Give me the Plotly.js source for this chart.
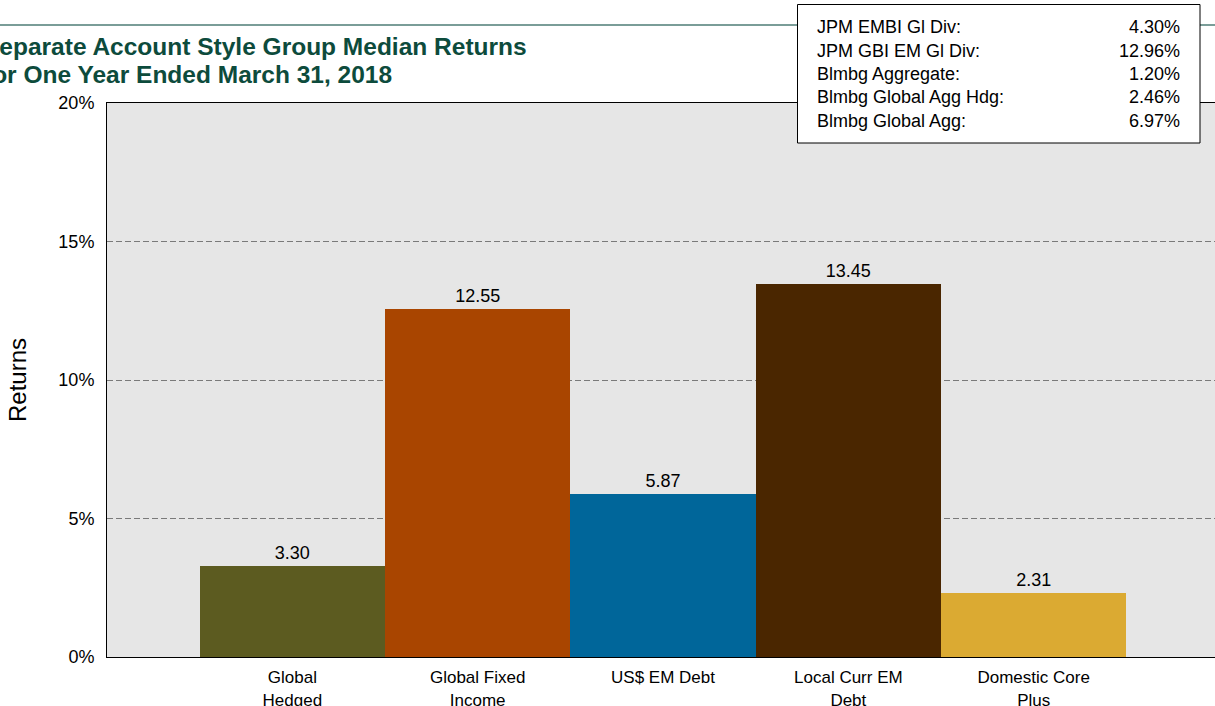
<!DOCTYPE html>
<html>
<head>
<meta charset="utf-8">
<script src="https://cdn.plot.ly/plotly-3.0.1.min.js"></script>
<style>
html, body { margin: 0; padding: 0; overflow: hidden; background: #fff; }
#chart { width: 1219px; height: 706px; }
</style>
</head>
<body>
<div id="chart"></div>
<script>
// ---- data ----
const categories = ['Global<br>Hedged', 'Global Fixed<br>Income', 'US$ EM Debt', 'Local Curr EM<br>Debt', 'Domestic Core<br>Plus'];
const medianReturns = [3.30, 12.55, 5.87, 13.45, 2.31];
const barColors = ['#5C5B20', '#A94500', '#00669A', '#4A2600', '#DBAA32'];
const indexNames = ['JPM EMBI Gl Div:', 'JPM GBI EM Gl Div:', 'Blmbg Aggregate:', 'Blmbg Global Agg Hdg:', 'Blmbg Global Agg:'];
const indexReturns = ['4.30%', '12.96%', '1.20%', '2.46%', '6.97%'];
const titleLines = ['Separate Account Style Group Median Returns', 'for One Year Ended March 31, 2018'];
const yTickVals = [0, 5, 10, 15, 20];
const yTickText = ['0%', '5%', '10%', '15%', '20%'];

// ---- layout helpers (pixel -> paper) ----
const L = 107, R = 1219, T = 103, B = 657;
const px = v => (v - L) / (R - L);
const py = v => (B - v) / (B - T);
const FONT = 'Liberation Sans, Arial, Helvetica, sans-serif';
const titleColor = '#0D4B3C';

const trace = {
  type: 'bar',
  x: categories,
  y: medianReturns,
  marker: { color: barColors, line: { width: 0 } },
  texttemplate: '%{y:.2f}',
  textposition: 'outside',
  textfont: { family: FONT, size: 18, color: '#000' },
  cliponaxis: false,
  hoverinfo: 'skip'
};

const annotations = [];
// title lines (right-anchored; left part runs off the page as in the reference)
const titleRight = [529, 394];
const titleY = [47, 75];
titleLines.forEach((t, i) => {
  annotations.push({
    xref: 'paper', yref: 'paper', x: px(titleRight[i]), y: py(titleY[i]),
    xanchor: 'right', yanchor: 'middle', showarrow: false, text: t,
    font: { family: FONT, size: 24.5, color: titleColor, weight: 700 }
  });
});
// benchmark box
indexNames.forEach((n, i) => {
  const yy = py(27.3 + 23.35 * i);
  annotations.push({
    xref: 'paper', yref: 'paper', x: px(815), y: yy, xanchor: 'left', yanchor: 'middle',
    showarrow: false, text: n, font: { family: FONT, size: 18, color: '#000' }
  });
  annotations.push({
    xref: 'paper', yref: 'paper', x: px(1182), y: yy, xanchor: 'right', yanchor: 'middle',
    showarrow: false, text: indexReturns[i], font: { family: FONT, size: 18, color: '#000' }
  });
});

const shapes = [
  { type: 'line', xref: 'paper', yref: 'paper', x0: px(0), x1: px(1219), y0: py(25), y1: py(25),
    line: { color: '#4E7C76', width: 1.5 }, layer: 'above' },
  { type: 'rect', xref: 'paper', yref: 'paper', x0: px(797.5), x1: px(1200), y0: py(4.5), y1: py(143),
    fillcolor: '#fff', line: { color: '#000', width: 1 }, layer: 'above' }
];

const layout = {
  width: 1219, height: 706,
  margin: { l: L, r: 1219 - R, t: T, b: 706 - B, pad: 0 },
  paper_bgcolor: '#fff',
  plot_bgcolor: '#E6E6E6',
  showlegend: false,
  bargap: 0,
  font: { family: FONT, color: '#000' },
  xaxis: {
    type: 'category', range: [-1, 5], fixedrange: true,
    showline: true, mirror: true, linecolor: '#000', linewidth: 1,
    showgrid: false, ticks: '', tickfont: { family: FONT, size: 17, color: '#000' },
    ticklabelstandoff: 5
  },
  yaxis: {
    range: [0, 20], fixedrange: true, tickvals: yTickVals, ticktext: yTickText,
    showline: true, mirror: true, linecolor: '#000', linewidth: 1,
    showgrid: true, gridcolor: '#7a7a7a', gridwidth: 1, griddash: '6px,3px',
    zeroline: false, ticks: '', tickfont: { family: FONT, size: 18, color: '#000' },
    ticklabelstandoff: 8,
    title: { text: 'Returns', font: { family: FONT, size: 24, color: '#000' }, standoff: 24 }
  },
  annotations: annotations,
  shapes: shapes
};

Plotly.newPlot('chart', [trace], layout, { displayModeBar: false, staticPlot: true });
</script>
</body>
</html>
